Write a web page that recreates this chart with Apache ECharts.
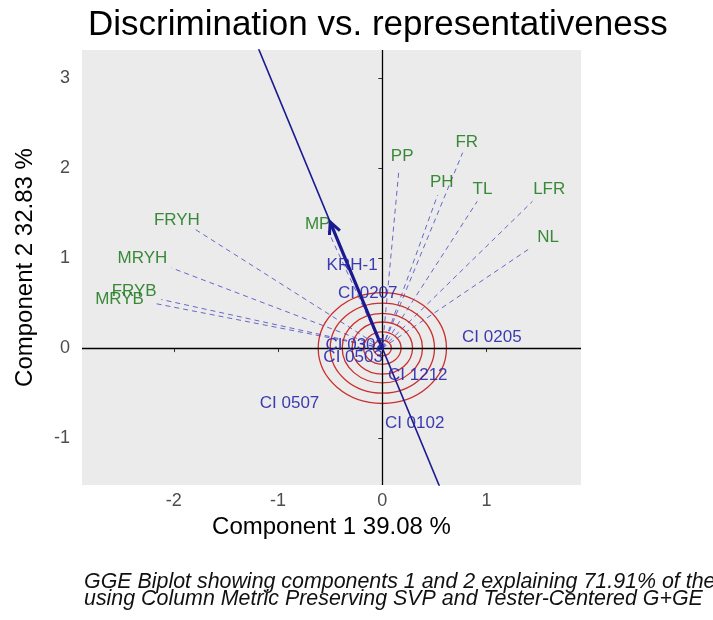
<!DOCTYPE html>
<html><head><meta charset="utf-8">
<script src="https://cdn.jsdelivr.net/npm/echarts@6/dist/echarts.min.js"></script>
<style>html,body{margin:0;padding:0;background:#fff}#c{width:713px;height:620px}</style>
</head><body><div id="c"></div>
<script>
// ---- data ----
const xTicks = [-2, -1, 0, 1];
const yTicks = [-1, 0, 1, 2, 3];
const xRange = [-2.88, 1.905];
const yRange = [-1.52, 3.31];

const traitNames  = ['PP', 'FR', 'PH', 'TL', 'LFR', 'NL', 'MP', 'FRYH', 'MRYH', 'FRYB', 'MRYB'];
const traitEndX   = [0.16, 0.77, 0.53, 0.91, 1.44, 1.43, -0.52, -1.81, -2.02, -2.12, -2.20];
const traitEndY   = [1.99, 2.17, 1.70, 1.63, 1.63, 1.12, 1.30, 1.33, 0.89, 0.54, 0.50];
const traitLabelX = [0.19, 0.81, 0.57, 0.96, 1.60, 1.59, -0.62, -1.97, -2.30, -2.38, -2.52];
const traitLabelY = [2.13, 2.28, 1.84, 1.76, 1.76, 1.23, 1.38, 1.42, 1.00, 0.63, 0.54];

const genoNames = ['KRH-1', 'CI 0207', 'CI 0205', 'CI 1212', 'CI 0507', 'CI 0102', 'CI 0302', 'CI 0503'];
const genoX     = [-0.29, -0.14, 1.05, 0.34, -0.89, 0.31, -0.26, -0.28];
const genoY     = [0.92, 0.61, 0.12, -0.30, -0.61, -0.84, 0.03, -0.10];

const circleRadii = [0.087, 0.18, 0.29, 0.385, 0.50, 0.615];
const aeaPoint = [-0.50, 1.40];

const titleText = 'Discrimination vs. representativeness';
const xName = 'Component 1 39.08 %';
const yName = 'Component 2 32.83 %';
const captionLines = [
  'GGE Biplot showing components 1 and 2 explaining 71.91% of the',
  'using Column Metric Preserving SVP and Tester-Centered G+GE'
];

// ---- chart ----
const FONT = '"Liberation Sans", Arial, sans-serif';
const chart = echarts.init(document.getElementById('c'), null, {renderer: 'canvas'});

const traitData = traitNames.map((n, i) => [traitEndX[i], traitEndY[i], traitLabelX[i], traitLabelY[i], i]);
const genoData = genoNames.map((n, i) => [genoX[i], genoY[i], i]);

const option = {
  animation: false,
  backgroundColor: '#ffffff',
  title: {
    text: titleText, left: 83, top: 3,
    textStyle: {fontFamily: FONT, fontSize: 35, fontWeight: 'normal', color: '#000'}
  },
  grid: {left: 82, right: 132, top: 50, bottom: 135, show: true, backgroundColor: '#EBEBEB', borderWidth: 0},
  xAxis: {
    type: 'value', min: xRange[0], max: xRange[1],
    name: xName, nameLocation: 'middle', nameGap: 25,
    nameTextStyle: {fontFamily: FONT, fontSize: 24, color: '#000'},
    axisLine: {show: false},
    axisTick: {show: true, length: 4, lineStyle: {color: '#333'}, customValues: xTicks},
    axisLabel: {fontFamily: FONT, fontSize: 18, color: '#4D4D4D', margin: 7, customValues: xTicks},
    splitLine: {show: false}
  },
  yAxis: {
    type: 'value', min: yRange[0], max: yRange[1],
    name: yName, nameLocation: 'middle', nameGap: 45, nameRotate: 90,
    nameTextStyle: {fontFamily: FONT, fontSize: 24, color: '#000'},
    axisLine: {show: false},
    axisTick: {show: true, length: 4, lineStyle: {color: '#333'}, customValues: yTicks},
    axisLabel: {fontFamily: FONT, fontSize: 18, color: '#4D4D4D', margin: 12, customValues: yTicks},
    splitLine: {show: false}
  },
  series: [
    {
      type: 'line', data: [], silent: true,
      markLine: {
        silent: true, symbol: 'none', animation: false,
        label: {show: false},
        lineStyle: {color: '#000', width: 1.3, type: 'solid'},
        data: [{xAxis: 0}, {yAxis: 0}]
      }
    },
    {
      type: 'custom', data: traitData, silent: true, z: 3,
      renderItem: function (params, api) {
        const i = api.value(4);
        const o = api.coord([0, 0]);
        const e = api.coord([api.value(0), api.value(1)]);
        const l = api.coord([api.value(2), api.value(3)]);
        return {
          type: 'group',
          children: [
            {type: 'line', shape: {x1: o[0], y1: o[1], x2: e[0], y2: e[1]},
             style: {stroke: 'rgba(70,70,190,0.8)', lineWidth: 1, lineDash: [5, 4]}},
            {type: 'text', x: l[0], y: l[1], z2: 10,
             style: {text: traitNames[i], fill: 'rgba(25,120,25,0.85)', font: '17px ' + FONT,
                     align: 'center', verticalAlign: 'middle'}}
          ]
        };
      }
    },
    {
      type: 'custom', data: circleRadii.map(r => [r]), silent: true, z: 4,
      renderItem: function (params, api) {
        const r = api.value(0);
        const c = api.coord([0, 0]);
        const s = api.size([r, r]);
        return {type: 'ellipse', shape: {cx: c[0], cy: c[1], rx: s[0], ry: s[1]},
                style: {fill: null, stroke: 'rgba(200,25,25,0.9)', lineWidth: 1.3}};
      }
    },
    {
      type: 'line', silent: true, z: 5, showSymbol: false, clip: true,
      data: [[aeaPoint[0] * -1.2, aeaPoint[1] * -1.2], [aeaPoint[0] * 2.6, aeaPoint[1] * 2.6]],
      lineStyle: {color: '#1a1a90', width: 1.6}
    },
    {
      type: 'custom', data: [aeaPoint], silent: true, z: 6,
      renderItem: function (params, api) {
        const o = api.coord([0, 0]);
        const p = api.coord([api.value(0), api.value(1)]);
        const ang = Math.atan2(p[1] - o[1], p[0] - o[0]);
        const L = 13, a = 0.45;
        const h1 = [p[0] - L * Math.cos(ang - a), p[1] - L * Math.sin(ang - a)];
        const h2 = [p[0] - L * Math.cos(ang + a), p[1] - L * Math.sin(ang + a)];
        return {
          type: 'group',
          children: [
            {type: 'line', shape: {x1: o[0], y1: o[1], x2: p[0], y2: p[1]},
             style: {stroke: '#1a1a90', lineWidth: 3.2}},
            {type: 'polyline', shape: {points: [h1, p, h2]},
             style: {stroke: '#1a1a90', lineWidth: 3, fill: null}}
          ]
        };
      }
    },
    {
      type: 'custom', data: genoData, silent: true, z: 7,
      renderItem: function (params, api) {
        const i = api.value(2);
        const p = api.coord([api.value(0), api.value(1)]);
        return {type: 'text', x: p[0], y: p[1],
                style: {text: genoNames[i], fill: 'rgba(40,40,170,0.9)', font: '17px ' + FONT,
                        align: 'center', verticalAlign: 'middle'}};
      }
    }
  ],
  graphic: captionLines.map((t, k) => ({
    type: 'text', left: 84, top: 572 + k * 17, silent: true,
    style: {text: t, fill: '#111', font: 'italic 21.4px ' + FONT}
  }))
};
chart.setOption(option);
</script>
</body></html>
